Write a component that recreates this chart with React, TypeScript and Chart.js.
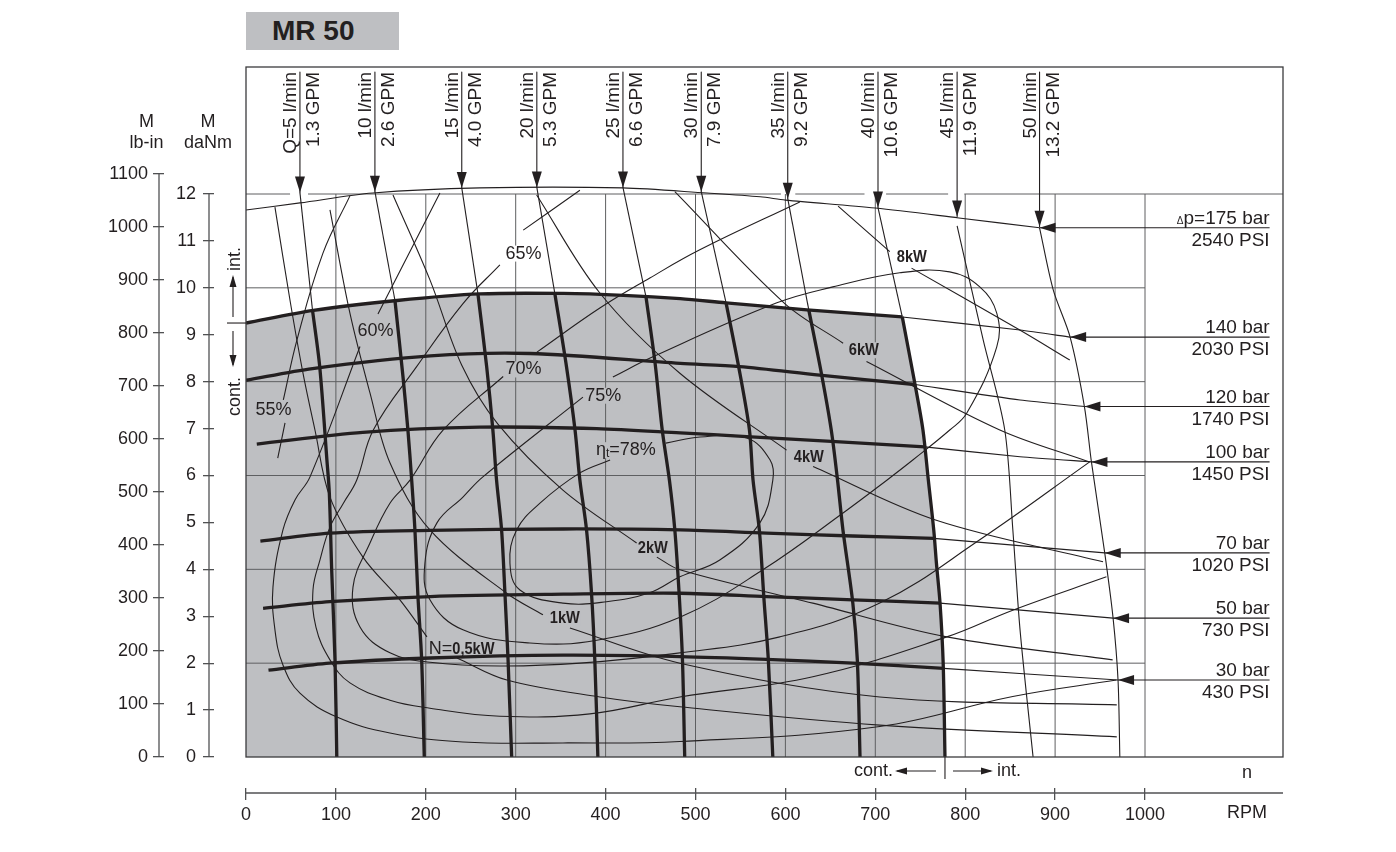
import React, { useEffect, useRef } from 'react';
import { Chart, registerables } from 'chart.js';

Chart.register(...registerables);

type Pt = [number, number] | null;

const W = 1396;
const H = 852;
const FONT = "'Liberation Sans', Arial, Helvetica, sans-serif";
const INK = '#231f20';
const GRID = '#5e5f61';
const AXIS = '#505153';
const FILL = '#bebfc2';

// ---------- scales & ticks ----------
const X_MAX = 1153.5;
const Y_MAX = 14.707;
const LB_PER_DANM = 88.507;
const X_TICKS = [0, 100, 200, 300, 400, 500, 600, 700, 800, 900, 1000];
const DANM_TICKS = [0, 1, 2, 3, 4, 5, 6, 7, 8, 9, 10, 11, 12];
const LBIN_TICKS = [0, 100, 200, 300, 400, 500, 600, 700, 800, 900, 1000, 1100];

const GRID_RPM = [100, 200, 300, 400, 500, 600, 700, 800, 900, 1000];
const GRID_DANM = [2, 4, 6, 8, 10];
const GRID_TOP_DANM = 12;
const GRID_RIGHT_RPM = 1000;
const TOP_LINE_GAPS: [number, number][] = [[49, 69], [595, 611], [688, 712], [781, 799]];

const CONT_INT_DANM = 9.25;
const CONT_INT_RPM = 777.5;

// ---------- flow (Q) lines ----------
const FLOW_LPM = [5, 10, 15, 20, 25, 30, 35, 40, 45, 50];
const FLOW_GPM = ['1.3', '2.6', '4.0', '5.3', '6.6', '7.9', '9.2', '10.6', '11.9', '13.2'];
const FLOW_ARROW_RPM = [60, 143.4, 240, 323.5, 419.3, 506.4, 602.6, 703, 791, 882.7];
const FLOW_ARROW_TIP = [12.03, 12.05, 12.13, 12.14, 12.14, 12.05, 11.9, 11.71, 11.52, 11.3];
const FLOW_ARROW_TOP = 14.6;

const Q5_THICK: Pt[] = [[74, 9.52], [82, 8.32], [90, 6.33], [92.7, 5.62], [95.3, 3.99], [99, 2.07], [101, 0]];
const Q10_THICK: Pt[] = [[165.7, 9.73], [174.6, 8.11], [180.1, 6.97], [184.3, 5.9], [187.9, 4.84], [191.3, 3.41], [195.4, 2.07], [198.3, 0]];
const Q15_THICK: Pt[] = [[258, 9.87], [267.7, 8.32], [274.6, 6.97], [278.7, 5.9], [284.3, 4.84], [288, 3.5], [291.5, 2.07], [295.5, 0]];
const Q20_THICK: Pt[] = [[343.6, 9.87], [356.5, 8.32], [366, 6.97], [371.4, 5.9], [378.8, 4.84], [384.3, 3.5], [388, 2.07], [391.4, 0]];
const Q25_THICK: Pt[] = [[445, 9.8], [455, 8.4], [463, 6.97], [471, 5.9], [477, 4.84], [482, 3.41], [485.5, 2.07], [488, 0]];
const Q30_THICK: Pt[] = [[534, 9.68], [548, 8.32], [560, 6.97], [564, 5.9], [571, 4.84], [576, 3.41], [581, 2.07], [586, 0]];
const Q35_THICK: Pt[] = [[626, 9.53], [640, 8.18], [651, 6.97], [658, 5.9], [664, 4.84], [675, 3.28], [680, 2.07], [683, 0]];
const Q40_THICK: Pt[] = [[730, 9.38], [744, 7.96], [753, 6.97], [759, 5.9], [765, 4.84], [768, 4.13], [772, 3.28], [775.5, 2.0], [777.5, 0]];
const Q_THICK = [Q5_THICK, Q10_THICK, Q15_THICK, Q20_THICK, Q25_THICK, Q30_THICK, Q35_THICK, Q40_THICK];
const Q45_LINE: Pt[] = [[791, 11.32], [820, 8.89], [844, 6.97], [853, 4.84], [861, 2.71], [875.5, 0]];
const Q50_LINE: Pt[] = [[882.7, 11.28], [898, 9.95], [916.7, 8.95], [932.6, 7.47], [940.4, 6.29], [955.2, 4.35], [964.5, 2.96], [970, 1.64], [972, 0]];

// ---------- pressure lines ----------
const P_BAR = [175, 140, 120, 100, 70, 50, 30];
const P_PSI = [2540, 2030, 1740, 1450, 1020, 730, 430];
const P_TIPS: [number, number][] = [[882.7, 11.28], [916.7, 8.95], [932.6, 7.47], [940.4, 6.29], [955.2, 4.35], [964.5, 2.96], [970, 1.64]];
const LABEL_RIGHT_RPM = 1138.6;

const P175_LINE: Pt[] = [[0, 11.66], [60, 11.81], [141, 12.02], [260, 12.13], [419, 12.13], [513, 12.02], [572, 11.94], [600, 11.87], [700, 11.7], [793, 11.49], [882.7, 11.28]];
const P140_THICK: Pt[] = [[0, 9.25], [75, 9.52], [168, 9.73], [260, 9.87], [353, 9.88], [420, 9.84], [483, 9.77], [534, 9.68], [624, 9.53], [730, 9.38]];
const P120_THICK: Pt[] = [[0, 8.03], [74, 8.28], [205, 8.55], [316, 8.6], [483, 8.39], [549, 8.32], [638, 8.14], [744, 7.94]];
const P100_THICK: Pt[] = [[12, 6.67], [130, 6.92], [260, 7.03], [390, 7.0], [483, 6.91], [557, 6.83], [755, 6.61]];
const P70_THICK: Pt[] = [[16, 4.6], [93, 4.77], [205, 4.83], [353, 4.86], [483, 4.84], [579, 4.77], [675, 4.71], [765, 4.66]];
const P50_THICK: Pt[] = [[19, 3.17], [93, 3.31], [205, 3.42], [353, 3.47], [483, 3.49], [579, 3.42], [675, 3.35], [772, 3.28]];
const P30_THICK: Pt[] = [[25, 1.85], [93, 2.0], [205, 2.11], [353, 2.17], [483, 2.14], [579, 2.08], [675, 2.0], [776, 1.89]];
const P_THICK = [P140_THICK, P120_THICK, P100_THICK, P70_THICK, P50_THICK, P30_THICK];

const P140_THIN: Pt[] = [[730, 9.38], [861, 9.1], [916.7, 8.95]];
const P120_THIN: Pt[] = [[744, 7.94], [861, 7.61], [932.6, 7.47]];
const P100_THIN: Pt[] = [[755, 6.61], [861, 6.4], [940.4, 6.29]];
const P70_THIN: Pt[] = [[765, 4.66], [955.2, 4.35]];
const P50_THIN: Pt[] = [[772, 3.28], [964.5, 2.96]];
const P30_THIN: Pt[] = [[776, 1.89], [970, 1.64]];
const P_THIN = [P140_THIN, P120_THIN, P100_THIN, P70_THIN, P50_THIN, P30_THIN];

// ---------- efficiency contours ----------
const E55: Pt[] = [[115.6, 11.96], [85.6, 10.74], [56.7, 8.89], [41.5, 7.61], null, [43.4, 7.12], [35.3, 6.37]];
const E60: Pt[] = [[215.7, 12.02], [146.8, 9.44], null, [126.8, 8.75], [71.2, 5.97], [54.5, 5.48], [41.1, 4.84], [30, 3.62], [32.2, 2.71], [41.1, 1.96], [60, 1.36], [101.2, 0.85], [160.1, 0.51], [241.3, 0.32], [352.5, 0.3], [482.6, 0.33], [705, 0.65], [852.9, 1.29], [968.2, 1.64]];
const E65: Pt[] = [[371.4, 12.08], [308.4, 11.23], null, [282.4, 10.49], [241.6, 9.67], [189.8, 8.32], [141.6, 6.97], [123.1, 5.9], [108, 5.4], [93.4, 4.9], [82.3, 4.2], [74.5, 3.56], [77.8, 2.77], [93.4, 2.07], [115.6, 1.58], [160.1, 1.21], [204.6, 1.04], [282.4, 0.87], [382.5, 0.92], [482.6, 1.28], [630.5, 1.71], [779.5, 2.56], [852.9, 3.13], [957.1, 3.84]];
const E70: Pt[] = [[616, 11.83], [504.8, 10.81], [449.2, 10.21], [393.6, 9.57], [323.6, 8.63], null, [286.1, 8.11], [219.4, 6.97], [182.4, 5.9], [160.1, 5.41], [137.9, 4.56], [119, 3.62], [126.8, 2.77], [160.1, 2.22], [204.6, 2.02], [282.4, 1.94], [371.4, 2.0], [482.6, 2.22], [593.8, 2.56], [705, 3.28], [816.2, 4.63], [938.5, 6.29]];
const E75: Pt[] = [[374.8, 7.67], [263.5, 5.97], [241.3, 5.54], [212.4, 4.99], [199, 4.13], [204.6, 3.35], [241.3, 2.71], [315.8, 2.43], [390.3, 2.49], [482.6, 2.98], [574.9, 3.99], [668.3, 5.26], [712.8, 5.9], [741.7, 6.33], [782.8, 6.97], [801.8, 7.33], [835.1, 8.74], [835.1, 9.46], [816.2, 10.02], [782.8, 10.34], [727.2, 10.32], [652.7, 10.02], [590.5, 9.68], [452.6, 8.53], [408.1, 8.1]];
const E78: Pt[] = [[467, 6.69], [505, 6.82], [557, 6.8], [583, 6.33], [586, 5.9], [571.6, 4.99], [527, 4.2], [482.6, 3.84], [449, 3.5], [401, 3.31], [352.5, 3.28], [304.7, 3.56], [293.6, 4.13], [301, 4.84], [327, 5.41], [371, 6.05], [405, 6.33]];
const CONTOURS = [E55, E60, E65, E70, E75, E78];

// ---------- power curves ----------
const N05: Pt[] = [[32.2, 11.72], [48.9, 9.74], [63.4, 8.18], [76.7, 6.97], [93.4, 5.54], [130.1, 4.26], [171.2, 3.35], [201.3, 2.56], null, [234.6, 2.11], [290.2, 1.64], [393.6, 1.28], [482.6, 1.07], [705, 0.68], [968.6, 0.43]];
const N1: Pt[] = [[93.4, 11.66], [115.6, 9.46], [137.9, 7.76], [160.1, 6.27], [204.6, 4.84], [290, 3.49], [330.3, 3.03], null, [360.3, 2.75], [482.6, 2.0], [705, 1.28], [968.6, 1.11]];
const N2: Pt[] = [[163.5, 11.98], [204.6, 10.17], [240, 8.35], [280, 7.1], [352.5, 5.69], [434.5, 4.56], null, [457, 4.26], [482.6, 3.99], [630.5, 3.28], [779.5, 2.56], [964, 2.07]];
const N4: Pt[] = [[323.3, 11.98], [393.6, 9.89], [482.6, 8.18], [601.3, 6.54], null, [630.8, 6.19], [767, 5.05], [953.3, 4.16]];
const N6: Pt[] = [[477, 12.05], [599, 9.67], [664.2, 8.82], null, [690.2, 8.43], [838.5, 6.97], [938, 6.29]];
const N8: Pt[] = [[658.6, 11.74], [716.1, 10.77], null, [740.3, 10.42], [860.7, 9.1], [916.3, 8.46]];
const POWER = [N05, N1, N2, N4, N6, N8];

// ---------- in-plot labels ----------
type Part = { t: string; bold?: boolean; sub?: boolean; small?: boolean };
const CURVE_LABELS: { parts: Part[]; at: [number, number] }[] = [
  { parts: [{ t: '55%' }], at: [30.6, 7.4] },
  { parts: [{ t: '60%' }], at: [144, 9.07] },
  { parts: [{ t: '65%' }], at: [308.6, 10.73] },
  { parts: [{ t: '70%' }], at: [308.6, 8.26] },
  { parts: [{ t: '75%' }], at: [397.5, 7.7] },
  { parts: [{ t: 'η' }, { t: 't', sub: true }, { t: '=78%' }], at: [422.6, 6.54] },
  { parts: [{ t: '8kW', bold: true }], at: [740.6, 10.66] },
  { parts: [{ t: '6kW', bold: true }], at: [687.2, 8.67] },
  { parts: [{ t: '4kW', bold: true }], at: [626, 6.39] },
  { parts: [{ t: '2kW', bold: true }], at: [452.6, 4.44] },
  { parts: [{ t: '1kW', bold: true }], at: [354.7, 2.96] },
  { parts: [{ t: 'N=' }, { t: '0,5kW', bold: true }], at: [239.9, 2.3] },
];

// ---------- helpers ----------
const xy = (pts: Pt[]) => pts.map((p) => (p ? { x: p[0], y: p[1] } : { x: null, y: null }));
const joinSegs = (segs: Pt[][]) => {
  const out: Pt[] = [];
  segs.forEach((s, i) => {
    if (i) out.push(null);
    out.push(...s);
  });
  return out;
};
function interp(pts: Pt[], x: number) {
  const p = pts.filter(Boolean) as [number, number][];
  if (x <= p[0][0]) return p[0][1];
  for (let i = 1; i < p.length; i++) {
    if (x <= p[i][0]) {
      const [x0, y0] = p[i - 1];
      const [x1, y1] = p[i];
      return y0 + ((y1 - y0) * (x - x0)) / (x1 - x0);
    }
  }
  return p[p.length - 1][1];
}
function partStyle(p: Part, base: number) {
  if (p.bold) return { font: `bold 17px ${FONT}`, sx: 0.86, dy: 0 };
  if (p.sub) return { font: `12px ${FONT}`, sx: 1, dy: 4 };
  if (p.small) return { font: `10px ${FONT}`, sx: 1, dy: 0 };
  return { font: `${base}px ${FONT}`, sx: 1, dy: 0 };
}
function measureParts(ctx: any, parts: Part[], base: number) {
  let w = 0;
  for (const p of parts) {
    const s = partStyle(p, base);
    ctx.font = s.font;
    w += ctx.measureText(p.t).width * s.sx;
  }
  return w;
}
function drawParts(ctx: any, parts: Part[], x: number, y: number, align: string, base: number, baseline: string) {
  const w = measureParts(ctx, parts, base);
  let cx = align === 'left' ? x : align === 'right' ? x - w : x - w / 2;
  ctx.textAlign = 'left';
  ctx.textBaseline = baseline;
  for (const p of parts) {
    const s = partStyle(p, base);
    ctx.font = s.font;
    const pw = ctx.measureText(p.t).width;
    ctx.save();
    ctx.translate(cx, y + s.dy);
    ctx.scale(s.sx, 1);
    ctx.fillText(p.t, 0, 0);
    ctx.restore();
    cx += pw * s.sx;
  }
  return w;
}
function head(ctx: any, fx: number, fy: number, tx: number, ty: number, len: number, hw: number) {
  const dx = tx - fx;
  const dy = ty - fy;
  const L = Math.hypot(dx, dy) || 1;
  const ux = dx / L;
  const uy = dy / L;
  const bx = tx - ux * len;
  const by = ty - uy * len;
  ctx.beginPath();
  ctx.moveTo(tx, ty);
  ctx.lineTo(bx - uy * hw, by + ux * hw);
  ctx.lineTo(bx + uy * hw, by - ux * hw);
  ctx.closePath();
  ctx.fill();
}
function seg(ctx: any, x1: number, y1: number, x2: number, y2: number) {
  ctx.beginPath();
  ctx.moveTo(x1, y1);
  ctx.lineTo(x2, y2);
  ctx.stroke();
}

function drawCurveLabels(chart: any) {
  const { ctx, scales } = chart;
  const xs = scales.x;
  const ys = scales.y;
  ctx.save();
  for (const lab of CURVE_LABELS) {
    const [vx, vy] = lab.at;
    const px = xs.getPixelForValue(vx);
    const py = ys.getPixelForValue(vy);
    const inside = vx < (Q40_THICK[0] as number[])[0] && vy < interp(P140_THICK, vx);
    const w = measureParts(ctx, lab.parts, 18);
    ctx.fillStyle = inside ? FILL : '#ffffff';
    ctx.fillRect(px - w / 2 - 1, py - 8, w + 2, 16);
    ctx.fillStyle = INK;
    drawParts(ctx, lab.parts, px, py, 'center', 18, 'middle');
  }
  ctx.restore();
}

const overlayPlugin = {
  id: 'motorOverlay',
  afterDatasetDraw(chart: any, args: any) {
    const ds = chart.data.datasets[args.index];
    if (ds && ds.labelsAfter) drawCurveLabels(chart);
  },
  afterDatasetsDraw(chart: any) {
    const { ctx, chartArea: ca } = chart;
    ctx.save();
    ctx.fillStyle = INK;
    chart.data.datasets.forEach((ds: any, i: number) => {
      if (!ds.arrowHead) return;
      const pts = chart.getDatasetMeta(i).data;
      const a = pts[pts.length - 2];
      const b = pts[pts.length - 1];
      head(ctx, a.x, a.y, b.x, b.y, 16, 5);
    });
    ctx.strokeStyle = '#3b3b3d';
    ctx.lineWidth = 1.3;
    ctx.strokeRect(ca.left, ca.top, ca.right - ca.left, ca.bottom - ca.top);
    ctx.restore();
  },
  afterDraw(chart: any) {
    const { ctx, chartArea: ca, scales } = chart;
    const xs = scales.x;
    const ys = scales.y;
    const yl = scales.yLb;
    ctx.save();
    // axis spines
    ctx.strokeStyle = AXIS;
    ctx.lineWidth = 1.3;
    seg(ctx, ys.right - 5, ys.getPixelForValue(0), ys.right - 5, ys.getPixelForValue(DANM_TICKS[DANM_TICKS.length - 1]));
    seg(ctx, yl.right - 5, yl.getPixelForValue(0), yl.right - 5, yl.getPixelForValue(LBIN_TICKS[LBIN_TICKS.length - 1]));
    seg(ctx, ca.left, xs.top + 5, ca.right, xs.top + 5);

    // axis titles
    const t12 = ys.getPixelForValue(12);
    ctx.fillStyle = INK;
    ctx.font = `18px ${FONT}`;
    ctx.textAlign = 'center';
    ctx.textBaseline = 'alphabetic';
    ctx.fillText('M', yl.right - 17.5, t12 - 67.5);
    ctx.fillText('lb-in', yl.right - 17.5, t12 - 46);
    ctx.fillText('M', ys.right - 6, t12 - 67.5);
    ctx.fillText('daNm', ys.right - 6, t12 - 46);

    // left cont./int. marker
    ctx.strokeStyle = INK;
    ctx.lineWidth = 1.1;
    const y0 = ys.getPixelForValue(CONT_INT_DANM);
    const xa = ca.left - 13;
    seg(ctx, ca.left - 19, y0, ca.left, y0);
    seg(ctx, xa, y0 - 6, xa, y0 - 46);
    head(ctx, xa, y0 - 6, xa, y0 - 48, 12, 3.5);
    seg(ctx, xa, y0 + 8, xa, y0 + 42);
    head(ctx, xa, y0 + 8, xa, y0 + 44, 12, 3.5);
    ctx.font = `18px ${FONT}`;
    ctx.textBaseline = 'alphabetic';
    ctx.save();
    ctx.translate(ca.left - 6, y0 - 52);
    ctx.rotate(-Math.PI / 2);
    ctx.textAlign = 'left';
    ctx.fillText('int.', 0, 0);
    ctx.restore();
    ctx.save();
    ctx.translate(ca.left - 6, y0 + 54);
    ctx.rotate(-Math.PI / 2);
    ctx.textAlign = 'right';
    ctx.fillText('cont.', 0, 0);
    ctx.restore();

    // bottom cont./int. marker
    const xc = xs.getPixelForValue(CONT_INT_RPM);
    const yb = ca.bottom + 14;
    seg(ctx, xc, ca.bottom, xc, ca.bottom + 22);
    seg(ctx, xc - 9, yb, xc - 48, yb);
    head(ctx, xc - 9, yb, xc - 50, yb, 12, 3.5);
    seg(ctx, xc + 8, yb, xc + 46, yb);
    head(ctx, xc + 8, yb, xc + 48, yb, 12, 3.5);
    ctx.textBaseline = 'middle';
    ctx.textAlign = 'right';
    ctx.fillText('cont.', xc - 52, yb);
    ctx.textAlign = 'left';
    ctx.fillText('int.', xc + 52, yb);
    ctx.textAlign = 'center';
    ctx.fillText('n', ca.right - 36, ca.bottom + 16);
    ctx.fillText('RPM', ca.right - 36, ca.bottom + 56);

    // flow labels (rotated)
    const yTop = ys.getPixelForValue(FLOW_ARROW_TOP);
    ctx.font = `19px ${FONT}`;
    ctx.textBaseline = 'alphabetic';
    ctx.textAlign = 'right';
    FLOW_ARROW_RPM.forEach((r, i) => {
      const x = xs.getPixelForValue(r);
      const l1 = `${i === 0 ? 'Q=' : ''}${FLOW_LPM[i]} l/min`;
      const l2 = `${FLOW_GPM[i]} GPM`;
      ctx.save();
      ctx.translate(x - 4, yTop);
      ctx.rotate(-Math.PI / 2);
      ctx.fillText(l1, 0, 0);
      ctx.restore();
      ctx.save();
      ctx.translate(x + 19, yTop);
      ctx.rotate(-Math.PI / 2);
      ctx.fillText(l2, 0, 0);
      ctx.restore();
    });

    // pressure labels
    const xr = xs.getPixelForValue(LABEL_RIGHT_RPM);
    P_BAR.forEach((b, i) => {
      const py = ys.getPixelForValue(P_TIPS[i][1]);
      const parts: Part[] = i === 0 ? [{ t: 'Δ', small: true }, { t: `p=${b} bar` }] : [{ t: `${b} bar` }];
      drawParts(ctx, parts, xr, py - 4, 'right', 19, 'alphabetic');
      ctx.font = `19px ${FONT}`;
      ctx.textAlign = 'right';
      ctx.textBaseline = 'alphabetic';
      ctx.fillText(`${P_PSI[i]} PSI`, xr, py + 18);
    });
    ctx.restore();
  },
};

function buildDatasets() {
  const ds: any[] = [];
  const base = {
    pointRadius: 0,
    pointHoverRadius: 0,
    pointHitRadius: 0,
    fill: false,
    tension: 0,
    xAxisID: 'x',
    yAxisID: 'y',
    borderJoinStyle: 'round',
    borderCapStyle: 'butt',
    spanGaps: false,
    borderColor: INK,
    borderWidth: 1.1,
  };
  const add = (pts: Pt[], o: any = {}) => ds.push({ ...base, ...o, data: xy(pts) });

  // grey continuous-duty area
  add([...P140_THICK, ...Q40_THICK.slice(1)], { fill: 'origin', backgroundColor: FILL, borderColor: 'rgba(0,0,0,0)', borderWidth: 1, order: 100 });

  // grid
  add(joinSegs(GRID_RPM.map((r) => [[r, 0], [r, GRID_TOP_DANM]] as Pt[])), { borderColor: GRID, borderWidth: 1, order: 92 });
  add(joinSegs(GRID_DANM.map((v) => [[0, v], [GRID_RIGHT_RPM, v]] as Pt[])), { borderColor: GRID, borderWidth: 1, order: 91 });
  const top: Pt[] = [[0, GRID_TOP_DANM]];
  TOP_LINE_GAPS.forEach(([a, b]) => {
    top.push([a, GRID_TOP_DANM], null, [b, GRID_TOP_DANM]);
  });
  top.push([X_MAX, GRID_TOP_DANM]);
  add(top, { borderColor: GRID, borderWidth: 1, order: 90, labelsAfter: true });

  // thin lines
  add(P175_LINE, { tension: 0.3, order: 50 });
  Q_THICK.forEach((q, i) => add([[FLOW_ARROW_RPM[i], FLOW_ARROW_TIP[i]], q[0]], { order: 50 }));
  add(Q45_LINE, { tension: 0.3, order: 50 });
  add(Q50_LINE, { tension: 0.3, order: 50 });
  P_THIN.forEach((p) => add(p, { tension: 0.2, order: 50 }));
  CONTOURS.forEach((c) => add(c, { tension: 0.4, order: 50 }));
  POWER.forEach((c) => add(c, { tension: 0.35, order: 50 }));
  // arrows
  FLOW_ARROW_RPM.forEach((r, i) => add([[r, FLOW_ARROW_TOP], [r, FLOW_ARROW_TIP[i]]], { order: 49, arrowHead: true }));
  P_TIPS.forEach((t) => add([[LABEL_RIGHT_RPM, t[1]], [t[0], t[1]]], { order: 49, arrowHead: true }));

  // thick lines
  Q_THICK.forEach((q) => add(q, { borderWidth: 3.3, tension: 0.3, order: 10 }));
  P_THICK.forEach((p) => add(p, { borderWidth: 3.3, tension: 0.3, order: 10 }));
  return ds;
}

const tickFont = { family: FONT, size: 18 };
const fixedTicks = (vals: number[]) => (s: any) => {
  s.ticks = vals.map((v) => ({ value: v }));
};

export default function App() {
  const ref = useRef<HTMLCanvasElement>(null);
  useEffect(() => {
    const canvas = ref.current;
    if (!canvas) return;
    const chart = new Chart(canvas, {
      type: 'line',
      data: { datasets: buildDatasets() },
      options: {
        responsive: false,
        maintainAspectRatio: false,
        animation: false,
        events: [],
        layout: { padding: { left: 0, right: W - 1283, top: 67, bottom: 0 } },
        plugins: { legend: { display: false }, tooltip: { enabled: false }, title: { display: false } },
        scales: {
          x: {
            type: 'linear',
            position: 'bottom',
            weight: 1,
            min: 0,
            max: X_MAX,
            afterBuildTicks: fixedTicks(X_TICKS),
            afterFit: (s: any) => {
              s.height = 64;
            },
            ticks: { font: tickFont, color: INK, padding: 4, autoSkip: false, maxRotation: 0, callback: (v: any) => String(v) },
            grid: { drawOnChartArea: false, drawTicks: true, tickLength: 12, color: AXIS, tickColor: AXIS, tickWidth: 1.3, lineWidth: 1.3 },
            border: { display: false },
          },
          xGap: {
            type: 'linear',
            axis: 'x',
            position: 'bottom',
            weight: 0,
            min: 0,
            max: 1,
            afterFit: (s: any) => {
              s.height = 31;
            },
            ticks: { display: false },
            grid: { display: false },
            border: { display: false },
          },
          y: {
            type: 'linear',
            position: 'left',
            weight: 1,
            min: 0,
            max: Y_MAX,
            afterBuildTicks: fixedTicks(DANM_TICKS),
            afterFit: (s: any) => {
              s.width = 50;
            },
            ticks: { font: tickFont, color: INK, padding: 7, autoSkip: false, callback: (v: any) => String(v) },
            grid: { drawOnChartArea: false, drawTicks: true, tickLength: 11, color: AXIS, tickColor: AXIS, tickWidth: 1.3, lineWidth: 1.3 },
            border: { display: false },
          },
          yGap: {
            type: 'linear',
            axis: 'y',
            position: 'left',
            weight: 0,
            min: 0,
            max: 1,
            afterFit: (s: any) => {
              s.width = 32;
            },
            ticks: { display: false },
            grid: { display: false },
            border: { display: false },
          },
          yLb: {
            type: 'linear',
            axis: 'y',
            position: 'left',
            weight: 2,
            min: 0,
            max: Y_MAX * LB_PER_DANM,
            afterBuildTicks: fixedTicks(LBIN_TICKS),
            afterFit: (s: any) => {
              s.width = 164;
            },
            ticks: { font: tickFont, color: INK, padding: 5, autoSkip: false, callback: (v: any) => String(v) },
            grid: { drawOnChartArea: false, drawTicks: true, tickLength: 11, color: AXIS, tickColor: AXIS, tickWidth: 1.3, lineWidth: 1.3 },
            border: { display: false },
          },
        },
      } as any,
      plugins: [overlayPlugin as any],
    } as any);
    return () => chart.destroy();
  }, []);

  return (
    <div style={{ position: 'fixed', left: 0, top: 0, width: W, height: H, background: '#ffffff', overflow: 'hidden' }}>
      <canvas ref={ref} width={W} height={H} style={{ position: 'absolute', left: 0, top: 0, width: W, height: H }} />
      <div
        style={{
          position: 'absolute',
          left: 246,
          top: 12,
          width: 153,
          height: 38,
          background: FILL,
          color: INK,
          fontFamily: FONT,
          fontWeight: 'bold',
          fontSize: 28,
          lineHeight: '38px',
          paddingLeft: 26,
          boxSizing: 'border-box',
        }}
      >
        MR 50
      </div>
    </div>
  );
}
